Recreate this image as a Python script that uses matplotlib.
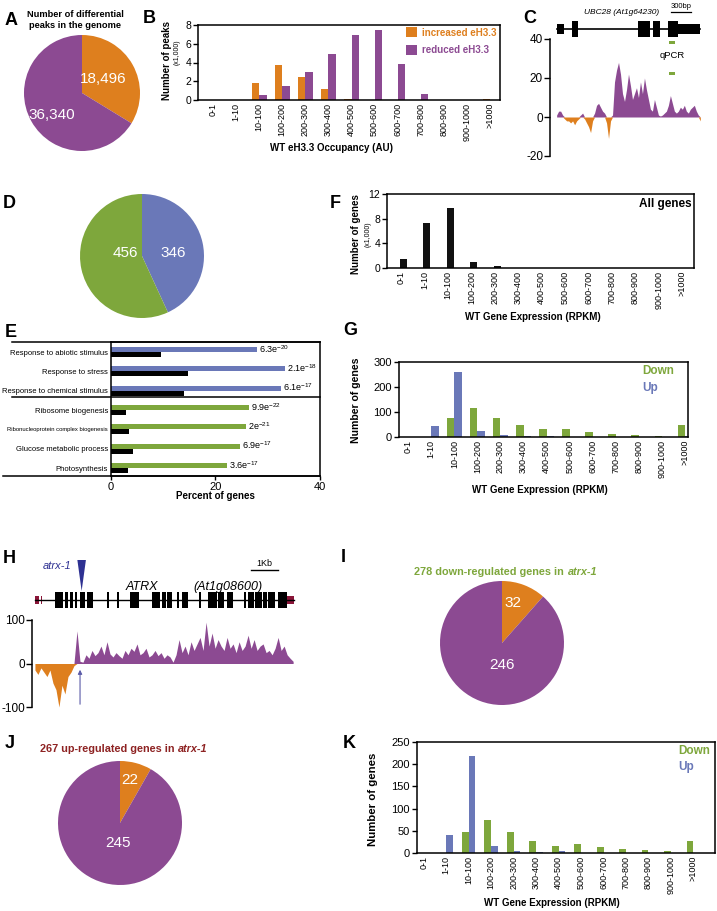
import numpy as np
import matplotlib
matplotlib.use('Agg')
import matplotlib.pyplot as plt
import matplotlib.transforms as mtransforms
from matplotlib.patches import Rectangle, Polygon

plt.rcParams['font.family'] = ['Liberation Sans', 'DejaVu Sans']
plt.rcParams['axes.unicode_minus'] = False
plt.rcParams['mathtext.fontset'] = 'custom'
plt.rcParams['mathtext.rm'] = 'Liberation Sans'
plt.rcParams['mathtext.it'] = 'Liberation Sans:italic'
plt.rcParams['mathtext.bf'] = 'Liberation Sans:bold'

ORANGE = '#DE7F1E'
PURPLE = '#8C4A92'
GREEN = '#7EA73C'
BLUE = '#6A78B8'
DARKRED = '#8E2323'
NAVY = '#2E3192'
MAROON = '#8A1538'

# ---------------- data ----------------
# A: differential peaks (increased, reduced)
peak_counts = [18496, 36340]

# B: peaks by WT eH3.3 occupancy (x1,000)
occ_bins = ['0-1', '1-10', '10-100', '100-200', '200-300', '300-400', '400-500',
            '500-600', '600-700', '700-800', '800-900', '900-1000', '>1000']
peaks_increased = [0, 0.02, 1.85, 3.7, 2.5, 1.2, 0.15, 0, 0, 0, 0, 0, 0.15]
peaks_reduced = [0, 0, 0.5, 1.5, 2.95, 4.9, 6.95, 7.5, 3.8, 0.6, 0, 0, 0]

# C: UBC28 eH3.3 difference track (one value every 30 bp)
ubc28_signal = [1, 3, 3, 1, -1, -2, -2, -3, -2, -4, -2, -1, 1, 2, -1, -3, -5, -8,
                -2, 2, 6, 7, 5, 3, 2, -3, -11, -2, 1, 18, 24, 28, 22, 12, 8, 14,
                22, 16, 9, 12, 15, 10, 18, 12, 20, 14, 9, 4, 3, 9, 5, 1, 0.5, 1,
                2, 3, 6, 11, 7, 3, 2, 3, 5, 4, 6, 3, 2, 4, 5, 6, 3, 1, -2]
ubc28_exons = [(0, 110, 5), (225, 325, 8), (1225, 1400, 8), (1450, 1550, 8),
               (1675, 1825, 8), (1825, 2150, 5)]
ubc28_qpcr = (1685, 1785)

# D: differentially expressed genes (up, down)
deg_counts = [346, 456]

# E: GO enrichment
go_terms = ['Response to abiotic stimulus', 'Response to stress',
            'Response to chemical stimulus', 'Ribosome biogenesis',
            'Ribonucleoprotein complex biogenesis', 'Glucose metabolic process',
            'Photosynthesis']
go_group = ['up', 'up', 'up', 'down', 'down', 'down', 'down']
go_pct = [27.9, 33.3, 32.5, 26.4, 25.8, 24.7, 22.2]
go_background = [9.6, 14.7, 14.0, 2.9, 3.4, 4.2, 3.2]
go_pvals = ['6.3e-20', '2.1e-18', '6.1e-17', '9.9e-22', '2e-21', '6.9e-17', '3.6e-17']

# F, G, K: WT gene expression bins
expr_bins = ['0-1', '1-10', '10-100', '100-200', '200-300', '300-400', '400-500',
             '500-600', '600-700', '700-800', '800-900', '900-1000', '>1000']
all_genes = [1.4, 7.3, 9.7, 1.0, 0.3, 0.08, 0.03, 0.02, 0.02, 0.02, 0.02, 0.02, 0.05]
g_down = [0, 0, 78, 118, 78, 47, 32, 32, 22, 13, 10, 5, 47]
g_up = [0, 46, 262, 24, 8, 4, 4, 1, 1, 0, 0, 1, 3]
k_down = [0, 0, 47, 75, 47, 28, 15, 20, 13, 9, 7, 4, 26]
k_up = [0, 40, 218, 16, 4, 2, 4, 1, 0, 0, 0, 0, 1]

# H: ATRX eH3.3 difference track (one value every 0.1125 kb)
atrx_signal = [-15, -25, -10, -20, -30, -15, -45, -60, -100, -50, -70, -30, -20, -5,
               75, 5, 3, 20, 12, 30, 18, 25, 40, 20, 50, 22, 15, 25, 18, 12, 30, 20,
               35, 28, 45, 20, 25, 35, 15, 20, 30, 18, 25, 12, 20, 15, 3, 20, 55, 25,
               40, 20, 50, 30, 45, 60, 30, 95, 40, 70, 35, 55, 40, 30, 60, 35, 45, 25,
               50, 30, 40, 65, 35, 55, 30, 40, 45, 25, 30, 20, 35, 60, 30, 40, 20, 12, 5]
atrx_exons = [(0.75, 1.06), (1.125, 1.25), (1.31, 1.44), (1.5, 1.59), (1.69, 1.875),
              (1.96, 2.16), (2.69, 2.78), (3.06, 3.15), (3.56, 3.91), (4.375, 4.69),
              (4.75, 4.9), (4.96, 5.125), (5.31, 5.4), (5.525, 5.75), (6.16, 6.24),
              (6.5, 6.81), (6.875, 7.09), (7.19, 7.44), (7.85, 7.91), (8.0, 8.19),
              (8.25, 8.5), (8.56, 8.69), (8.75, 9.0), (9.1, 9.46)]
atrx_utr = [(0, 0.16), (0.24, 0.27), (0.36, 0.39), (9.46, 9.69)]
atrx1_site = 1.75

# I, J: overlap with eH3.3 peaks (increased, reduced)
down_overlap = [32, 246]
up_overlap = [22, 245]

# ---------------- layout helpers ----------------
W, H = 717, 911
fig = plt.figure(figsize=(W / 100, H / 100), dpi=100)


def add_ax(l, t, r, b):
    return fig.add_axes([l / W, 1 - b / H, (r - l) / W, (b - t) / H])


def ftext(x, y, s, **kw):
    return fig.text(x / W, 1 - y / H, s, **kw)


def pie_panel(cx, cy, r, values, colors, label_xy):
    ax = add_ax(cx - r, cy - r, cx + r, cy + r)
    ax.pie(values, colors=colors, startangle=90, counterclock=False,
           wedgeprops=dict(linewidth=0))
    ax.set_xlim(-1, 1)
    ax.set_ylim(-1, 1)
    for v, (x, y) in zip(values, label_xy):
        ax.text(x, y, f'{v:,}', color='white', ha='center', va='center', fontsize=11)
    return ax


def bar_panel(ax, bins, series, colors, offsets, width, ylim, yticks, ytick_size=8):
    x = np.arange(len(bins))
    out = []
    for vals, c, off in zip(series, colors, offsets):
        out.append(ax.bar(x + off, vals, width=width, color=c, lw=0))
    ax.set_xticks(x, bins, rotation=90, fontsize=6.5)
    ax.tick_params(axis='x', length=0, pad=2)
    ax.tick_params(axis='y', length=3.5, width=1, labelsize=ytick_size, pad=1.5)
    ax.set_ylim(*ylim)
    ax.set_yticks(yticks)
    for s in ax.spines.values():
        s.set_linewidth(1.1)
    return out


# panel letters
for letter, x, y in [('A', 5, 25), ('B', 143, 23), ('C', 523, 23), ('D', 3, 208),
                     ('F', 330, 208), ('E', 5, 337), ('G', 343, 335), ('H', 3, 563),
                     ('I', 341, 562), ('J', 5, 748), ('K', 343, 748)]:
    ftext(x, y, letter, fontsize=13, fontweight='bold', va='baseline')

# ---------------- A ----------------
ftext(75, 20, 'Number of differential\npeaks in the genome', ha='center', va='center',
      fontsize=6.7, fontweight='bold', linespacing=1.4)
pie_panel(82, 93, 58, peak_counts, [ORANGE, PURPLE], [(0.36, 0.24), (-0.52, -0.38)])

# ---------------- B ----------------
axB = add_ax(198, 25, 500, 100)
bars = bar_panel(axB, occ_bins, [peaks_increased, peaks_reduced], [ORANGE, PURPLE],
                 [-0.16, 0.16], 0.32, (0, 8), [0, 2, 4, 6, 8], ytick_size=7.5)
axB.set_xlim(-0.65, 12.43)
leg = axB.legend(bars, ['increased eH3.3', 'reduced eH3.3'], loc='upper left',
                 bbox_to_anchor=(0.69, 0.97), frameon=False,
                 prop={'weight': 'bold', 'size': 7}, handlelength=1.1,
                 handleheight=1.2, handletextpad=0.5, labelspacing=0.75,
                 borderpad=0, borderaxespad=0)
for t, c in zip(leg.get_texts(), [ORANGE, PURPLE]):
    t.set_color(c)
ftext(167, 60, 'Number of peaks', rotation=90, ha='center', va='center',
      fontsize=7, fontweight='bold')
ftext(177, 52, '(x1,000)', rotation=90, ha='center', va='center', fontsize=5)
ftext(332, 148, 'WT eH3.3 Occupancy (AU)', ha='center', va='center',
      fontsize=7, fontweight='bold')

# ---------------- C ----------------
axC = add_ax(550, 39, 701, 156)
posC = np.arange(len(ubc28_signal)) * 30
sigC = np.array(ubc28_signal, float)
axC.fill_between(posC, np.clip(sigC, 0, None), 0, color=PURPLE, lw=0)
axC.fill_between(posC, np.clip(sigC, None, 0), 0, color=ORANGE, lw=0)
axC.set_xlim(-100, 2170)
axC.set_ylim(-20, 40)
for s in ['top', 'right', 'bottom']:
    axC.spines[s].set_visible(False)
axC.spines['left'].set_linewidth(1.1)
axC.set_xticks([])
axC.set_yticks([-20, 0, 20, 40])
axC.tick_params(axis='y', length=4, width=1, labelsize=8.5, pad=1)
for yq in (37.3, 21.4):
    axC.add_patch(Rectangle((ubc28_qpcr[0], yq), ubc28_qpcr[1] - ubc28_qpcr[0], 1.9,
                            color=GREEN, lw=0))
axC.text(sum(ubc28_qpcr) / 2, 31.5, 'qPCR', ha='center', va='center', fontsize=6.8)

axCg = add_ax(550, 0, 701, 39)
axCg.set_xlim(-100, 2170)
axCg.set_ylim(39, 0)
axCg.axis('off')
axCg.plot([0, 2150], [29, 29], color='black', lw=1.2)
for s, e, h in ubc28_exons:
    axCg.add_patch(Rectangle((s, 29 - h), e - s, 2 * h, color='black', lw=0))
axCg.text(975, 13, 'UBC28 (At1g64230)', style='italic', ha='center', va='center',
          fontsize=6)
axCg.plot([1725, 2025], [12, 12], color='black', lw=0.9)
axCg.text(1875, 9.5, '300bp', ha='center', va='bottom', fontsize=5.5)

# ---------------- D ----------------
pie_panel(142, 256, 62, deg_counts, [BLUE, GREEN], [(0.5, 0.05), (-0.27, 0.05)])

# ---------------- E ----------------
axE = add_ax(111, 342, 320, 476)
yE = np.arange(len(go_terms))
colE = [BLUE if g == 'up' else GREEN for g in go_group]
axE.barh(yE - 0.13, go_pct, height=0.26, color=colE, lw=0)
axE.barh(yE + 0.13, go_background, height=0.26, color='black', lw=0)
axE.set_xlim(0, 40)
axE.set_ylim(6.41, -0.52)
axE.set_yticks(yE, go_terms)
for lab in axE.get_yticklabels():
    lab.set_fontsize(4.2 if len(lab.get_text()) > 30 else 5.5)
axE.tick_params(axis='y', length=0, pad=2)
axE.set_xticks([0, 20, 40])
axE.tick_params(axis='x', length=3, width=1, labelsize=8, pad=1)
for s in axE.spines.values():
    s.set_linewidth(1.1)
for yy, v, p in zip(yE, go_pct, go_pvals):
    mant, ex = p.split('e')
    axE.text(v + 0.4, yy - 0.16, f'{mant}e$^{{{ex}}}$', ha='left', va='center',
             fontsize=6.5)
trE = mtransforms.blended_transform_factory(axE.transAxes, axE.transData)
axE.plot([-0.474, 1], [2.33, 2.33], color='black', lw=1.1, transform=trE, clip_on=False)
axE.plot([-0.474, 1], [1, 1], color='black', lw=1.1, transform=axE.transAxes,
         clip_on=False)
axE.plot([-0.517, 1], [0, 0], color='black', lw=1.1, transform=axE.transAxes,
         clip_on=False)
ftext(215, 496, 'Percent of genes', ha='center', va='center', fontsize=7,
      fontweight='bold')

# ---------------- F ----------------
axF = add_ax(387, 194, 694, 268)
bar_panel(axF, expr_bins, [all_genes], ['#111111'], [0.1], 0.3, (0, 12),
          [0, 4, 8, 12], ytick_size=7.5)
axF.set_xlim(-0.6, 12.5)
axF.text(0.993, 0.865, 'All genes', transform=axF.transAxes, ha='right',
         va='center', fontsize=8.5, fontweight='bold')
ftext(356, 234, 'Number of genes', rotation=90, ha='center', va='center',
      fontsize=7, fontweight='bold')
ftext(368, 234, '(x1,000)', rotation=90, ha='center', va='center', fontsize=5)
ftext(533, 317, 'WT Gene Expression (RPKM)', ha='center', va='center', fontsize=7,
      fontweight='bold')

# ---------------- G ----------------
axG = add_ax(399, 362, 688, 437)
bar_panel(axG, expr_bins, [g_down, g_up], [GREEN, BLUE], [-0.16, 0.16], 0.32,
          (0, 300), [0, 100, 200, 300])
axG.set_xlim(-0.4, 12.13)
axG.text(0.84, 0.88, 'Down', color=GREEN, transform=axG.transAxes, ha='left',
         va='center', fontsize=8.5, fontweight='bold')
axG.text(0.84, 0.653, 'Up', color=BLUE, transform=axG.transAxes, ha='left',
         va='center', fontsize=8.5, fontweight='bold')
ftext(356, 400, 'Number of genes', rotation=90, ha='center', va='center',
      fontsize=7.6, fontweight='bold')
ftext(540, 490, 'WT Gene Expression (RPKM)', ha='center', va='center', fontsize=7,
      fontweight='bold')

# ---------------- H ----------------
axH = add_ax(32, 620, 297, 707)
posH = np.arange(len(atrx_signal)) * 0.1125
sigH = np.array(atrx_signal, float)
axH.fill_between(posH, np.clip(sigH, 0, None), 0, color=PURPLE, lw=0)
axH.fill_between(posH, np.clip(sigH, None, 0), 0, color=ORANGE, lw=0)
axH.set_xlim(-0.11, 9.82)
axH.set_ylim(-100, 100)
for s in ['top', 'right', 'bottom']:
    axH.spines[s].set_visible(False)
axH.spines['left'].set_linewidth(1.1)
axH.set_xticks([])
axH.set_yticks([-100, 0, 100])
axH.tick_params(axis='y', length=4, width=1, labelsize=8.5, pad=1)
axH.annotate('', xy=(atrx1_site - 0.06, -8), xytext=(atrx1_site - 0.06, -100),
             arrowprops=dict(arrowstyle='-|>', color='#5B5BA8', lw=0.8,
                             mutation_scale=6), annotation_clip=False)

axHg = add_ax(32, 550, 297, 615)
axHg.set_xlim(-0.11, 9.82)
axHg.set_ylim(615, 550)
axHg.axis('off')
axHg.plot([0, 9.69], [600, 600], color='black', lw=1)
for s, e in atrx_exons:
    axHg.add_patch(Rectangle((s, 592), e - s, 16, color='black', lw=0))
for s, e in atrx_utr:
    axHg.add_patch(Rectangle((s, 596), e - s, 8, color=MAROON, lw=0))
axHg.add_patch(Polygon([(atrx1_site - 0.16, 560), (atrx1_site + 0.16, 560),
                        (atrx1_site, 591)], color=NAVY, lw=0))
axHg.text(1.38, 566, 'atrx-1', color=NAVY, style='italic', ha='right', va='center',
          fontsize=8)
axHg.text(4.0, 587, 'ATRX', style='italic', ha='center', va='center', fontsize=9)
axHg.text(7.25, 587, '(At1g08600)', style='italic', ha='center', va='center',
          fontsize=9)
axHg.plot([8.09, 9.09], [569.5, 569.5], color='black', lw=1)
axHg.text(8.59, 567.5, '1Kb', ha='center', va='bottom', fontsize=6.5)

# ---------------- I ----------------
ftext(564, 572, '278 down-regulated genes in', ha='right', va='center', fontsize=7.8,
      fontweight='bold', color=GREEN)
ftext(568, 572, 'atrx-1', ha='left', va='center', fontsize=7.8, fontweight='bold',
      style='italic', color=GREEN)
pie_panel(502, 643, 62, down_overlap, [ORANGE, PURPLE], [(0.18, 0.65), (0, -0.35)])

# ---------------- J ----------------
ftext(174, 749, '267 up-regulated genes in', ha='right', va='center', fontsize=7.8,
      fontweight='bold', color=DARKRED)
ftext(178, 749, 'atrx-1', ha='left', va='center', fontsize=7.8, fontweight='bold',
      style='italic', color=DARKRED)
pie_panel(120, 823, 62, up_overlap, [ORANGE, PURPLE], [(0.16, 0.69), (-0.03, -0.32)])

# ---------------- K ----------------
axK = add_ax(417, 742, 715, 853)
bar_panel(axK, expr_bins, [k_down, k_up], [GREEN, BLUE], [-0.15, 0.15], 0.3,
          (0, 250), [0, 50, 100, 150, 200, 250])
axK.set_xlim(-0.3, 12.96)
axK.text(0.876, 0.92, 'Down', color=GREEN, transform=axK.transAxes, ha='left',
         va='center', fontsize=8.5, fontweight='bold')
axK.text(0.876, 0.775, 'Up', color=BLUE, transform=axK.transAxes, ha='left',
         va='center', fontsize=8.5, fontweight='bold')
ftext(373, 799, 'Number of genes', rotation=90, ha='center', va='center',
      fontsize=8.2, fontweight='bold')
ftext(552, 903, 'WT Gene Expression (RPKM)', ha='center', va='center', fontsize=7,
      fontweight='bold')

fig.savefig('out.png', dpi=100)
